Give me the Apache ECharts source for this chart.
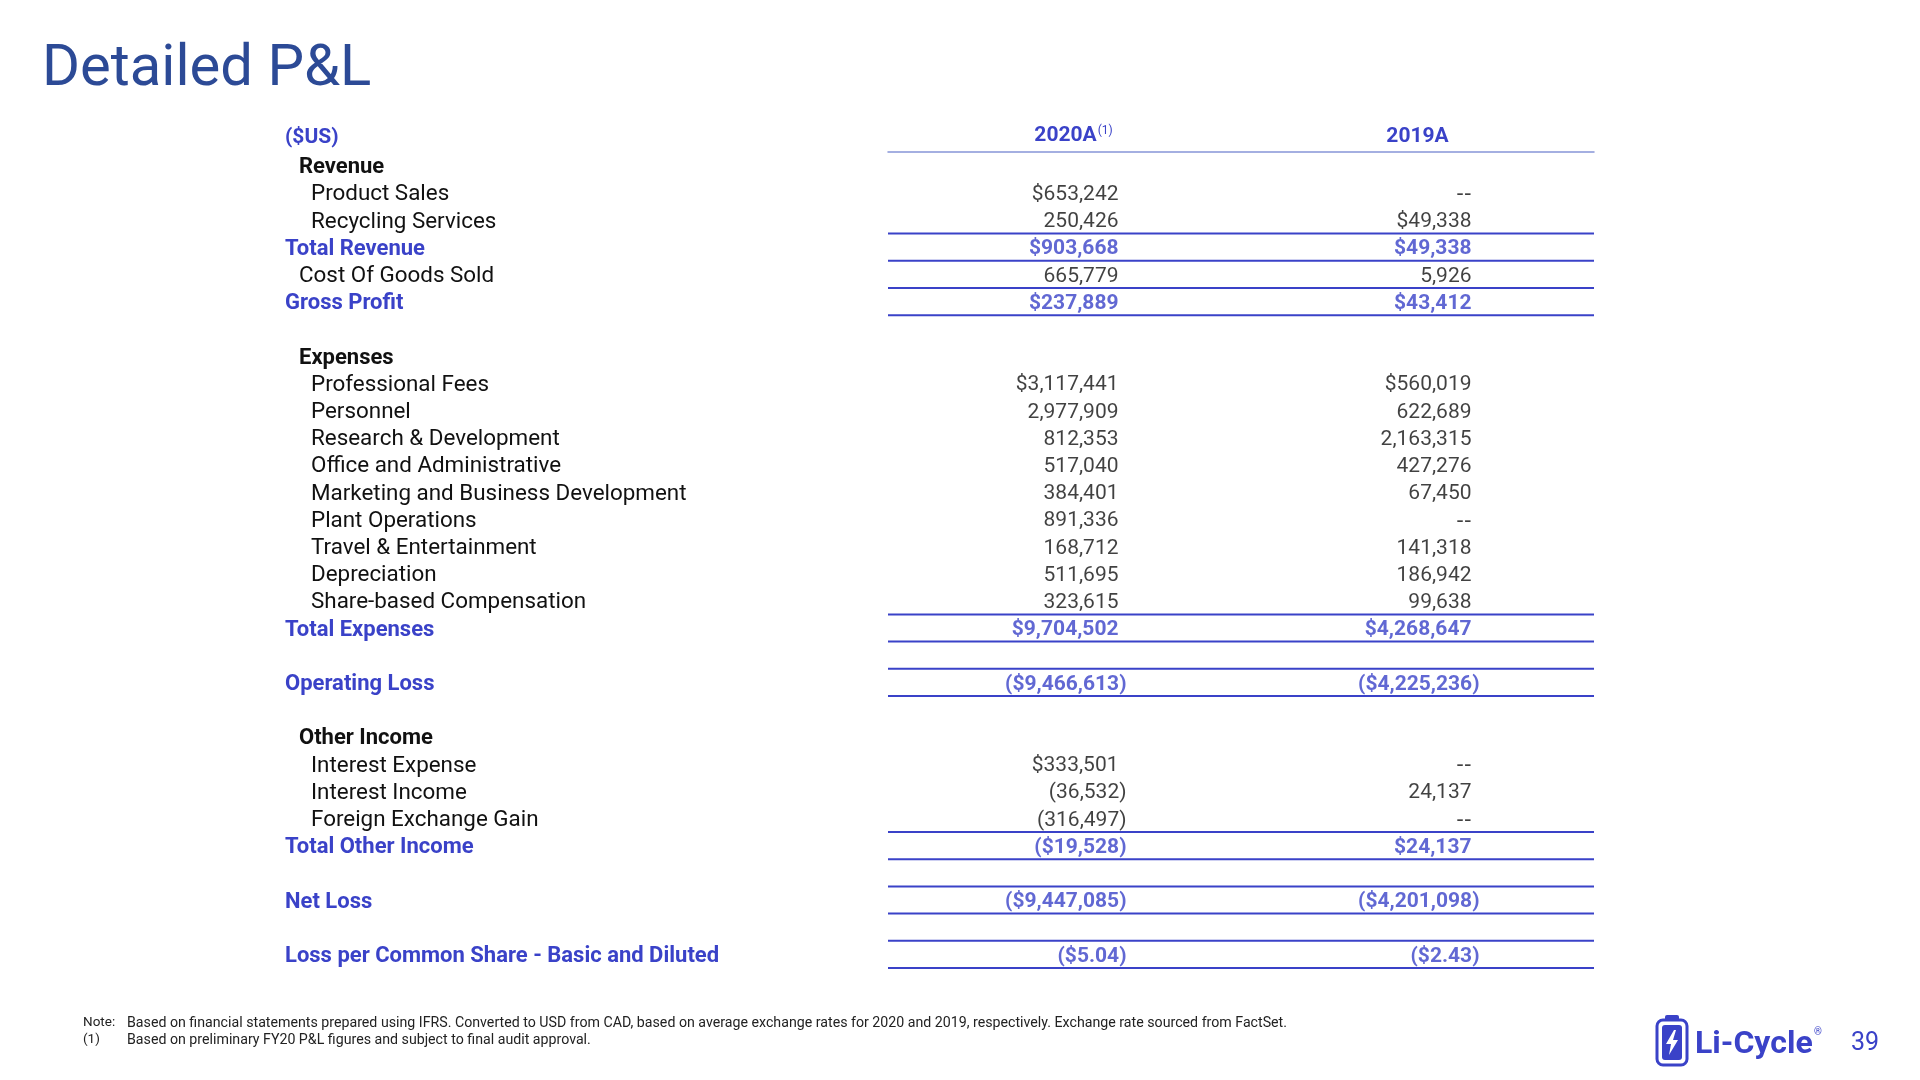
<!DOCTYPE html>
<html>
<head>
<meta charset="utf-8">
<title>Detailed P&L</title>
<script src="https://cdn.jsdelivr.net/npm/echarts@6/dist/echarts.min.js"></script>
<style>
    html, body { margin: 0; padding: 0; background: #fff; }
    #main { width: 1920px; height: 1080px; }
</style>
</head>
<body>
<div id="main"></div>
<script>
// rows of the statement, top to bottom ('' = spacer row)
const rowLabels = [
    'Revenue', 'Product Sales', 'Recycling Services', 'Total Revenue', 'Cost Of Goods Sold', 'Gross Profit', '',
    'Expenses', 'Professional Fees', 'Personnel', 'Research & Development', 'Office and Administrative',
    'Marketing and Business Development', 'Plant Operations', 'Travel & Entertainment', 'Depreciation',
    'Share-based Compensation', 'Total Expenses', '',
    'Operating Loss', '',
    'Other Income', 'Interest Expense', 'Interest Income', 'Foreign Exchange Gain', 'Total Other Income', '',
    'Net Loss', '',
    'Loss per Common Share - Basic and Diluted'
]
const columns = ['2020A', '2019A']

// null = no cell, '--' = nil
const v2020 = [
    null, 653242, 250426, 903668, 665779, 237889, null,
    null, 3117441, 2977909, 812353, 517040, 384401, 891336, 168712, 511695, 323615, 9704502, null,
    -9466613, null,
    null, 333501, -36532, -316497, -19528, null,
    -9447085, null,
    -5.04
]
const v2019 = [
    null, '--', 49338, 49338, 5926, 43412, null,
    null, 560019, 622689, 2163315, 427276, 67450, '--', 141318, 186942, 99638, 4268647, null,
    -4225236, null,
    null, '--', 24137, '--', 24137, null,
    -4201098, null,
    -2.43
]

const totalRows = ['Total Revenue', 'Gross Profit', 'Total Expenses', 'Operating Loss', 'Total Other Income', 'Net Loss', 'Loss per Common Share - Basic and Diluted']
const sectionRows = ['Revenue', 'Expenses', 'Other Income']
const level1Rows = ['Cost Of Goods Sold']
const dollarRows = {
    '2020A': ['Product Sales', 'Professional Fees', 'Interest Expense'],
    '2019A': ['Recycling Services', 'Professional Fees']
}

const blue = '#3a42c8'
const ink = '#111111'
const font = 'Roboto'

function fmt(v, row, col) {
    if (v === '--') return '--'
    let isTotal = totalRows.includes(row)
    let dollar = isTotal || dollarRows[col].includes(row) ? '$' : ''
    let abs = Math.abs(v)
    let s = Number.isInteger(v) ? abs.toLocaleString('en-US') : abs.toFixed(2)
    return v < 0 ? '(' + dollar + s + ')' : dollar + s
}

function cellSeries(values, colIdx) {
    let col = columns[colIdx]
    let data = []
    values.forEach((v, r) => {
        if (v === null) return
        let row = rowLabels[r]
        let txt = fmt(v, row, col)
        let key = totalRows.includes(row) ? 't' : 'n'
        if (txt === '--') key = 'd'
        else if (!txt.endsWith(')')) key += 'p'
        data.push({ value: [colIdx, r], txt: '{' + key + '|' + txt + '}' })
    })
    return {
        type: 'scatter',
        name: col,
        data: data,
        symbolSize: 1,
        itemStyle: { color: 'transparent' },
        label: {
            show: true,
            position: 'inside',
            align: 'right',
            verticalAlign: 'middle',
            offset: [62, 2],
            formatter: p => data[p.dataIndex].txt,
            rich: {
                n: { fontFamily: font, fontSize: 21, color: ink },
                np: { fontFamily: font, fontSize: 21, color: ink, padding: [0, 8, 0, 0] },
                d: { fontFamily: 'DejaVu Sans', fontSize: 21, color: ink, padding: [0, 8, 0, 0] },
                t: { fontFamily: font, fontSize: 21, color: blue, fontWeight: 'bold' },
                tp: { fontFamily: font, fontSize: 21, color: blue, fontWeight: 'bold', padding: [0, 8, 0, 0] }
            }
        },
        z: 5
    }
}

// overline / underline rules round every total row
let ruleData = []
rowLabels.forEach((r, i) => { if (totalRows.includes(r)) ruleData.push([0, i]) })

let myChart = echarts.init(document.getElementById('main'))
let option = {
    animation: false,
    backgroundColor: '#fff',
    title: [
        {
            text: 'Detailed P&L',
            left: 42, top: 41, padding: 0,
            textStyle: { fontFamily: font, fontSize: 58, fontWeight: 'normal', color: '#2c4a96' }
        },
        {
            text: '($US)',
            left: 285, top: 127, padding: 0,
            textStyle: { fontFamily: font, fontSize: 21, fontWeight: 'bold', color: blue }
        }
    ],
    grid: { left: 888, right: 326, top: 152, height: 816 },
    xAxis: {
        type: 'category',
        position: 'top',
        data: columns,
        axisTick: { show: false },
        splitLine: { show: false },
        axisLine: { show: true, lineStyle: { color: '#8795d8', width: 1.5 } },
        axisLabel: {
            margin: 5,
            formatter: v => v === '2020A' ? '{hs|' + v + '}{s|(1)}' : '{h|' + v + '}',
            rich: {
                h: { fontFamily: font, fontSize: 21, fontWeight: 'bold', color: blue },
                hs: { fontFamily: font, fontSize: 21, fontWeight: 'bold', color: blue, padding: [0, 0, 0, 18] },
                s: { fontFamily: font, fontSize: 12, color: blue, verticalAlign: 'top', padding: [0, 0, 10, 1] }
            }
        }
    },
    yAxis: {
        type: 'category',
        inverse: true,
        data: rowLabels,
        axisLine: { show: false },
        axisTick: { show: false },
        splitLine: { show: false },
        axisLabel: {
            interval: 0,
            align: 'left',
            margin: 603,
            formatter: v => {
                if (!v) return ''
                if (totalRows.includes(v)) return '{tot|' + v + '}'
                if (sectionRows.includes(v)) return '{sec|' + v + '}'
                if (level1Rows.includes(v)) return '{l1|' + v + '}'
                return '{l2|' + v + '}'
            },
            rich: {
                tot: { fontFamily: font, fontSize: 22, fontWeight: 'bold', color: blue, padding: [4, 0, 0, 0] },
                sec: { fontFamily: font, fontSize: 22, fontWeight: 'bold', color: ink, padding: [4, 0, 0, 14] },
                l1: { fontFamily: font, fontSize: 22.4, color: ink, padding: [4, 0, 0, 14] },
                l2: { fontFamily: font, fontSize: 22.4, color: ink, padding: [4, 0, 0, 26] }
            }
        }
    },
    series: [
        cellSeries(v2020, 0),
        cellSeries(v2019, 1),
        {
            type: 'custom',
            name: 'rules',
            data: ruleData,
            encode: { x: 0, y: 1 },
            renderItem: function (params, api) {
                let cs = params.coordSys
                let y = api.coord([0, api.value(1)])[1]
                let h = api.size([0, 1])[1] / 2
                let style = { stroke: blue, lineWidth: 2 }
                return {
                    type: 'group',
                    children: [
                        { type: 'line', shape: { x1: cs.x, y1: y - h, x2: cs.x + cs.width, y2: y - h }, style: style },
                        { type: 'line', shape: { x1: cs.x, y1: y + h, x2: cs.x + cs.width, y2: y + h }, style: style }
                    ]
                }
            },
            z: 3
        }
    ],
    graphic: [
        // footnotes
        { type: 'text', left: 83, top: 1016, style: { text: 'Note:', font: '13.5px Roboto', fill: '#222' } },
        { type: 'text', left: 127, top: 1016, style: { text: 'Based on financial statements prepared using IFRS. Converted to USD from CAD, based on average exchange rates for 2020 and 2019, respectively. Exchange rate sourced from FactSet.', font: '14.2px Roboto', fill: '#222' } },
        { type: 'text', left: 83, top: 1033, style: { text: '(1)', font: '13.5px Roboto', fill: '#222' } },
        { type: 'text', left: 127, top: 1033, style: { text: 'Based on preliminary FY20 P&L figures and subject to final audit approval.', font: '14.2px Roboto', fill: '#222' } },
        // logo
        { type: 'rect', shape: { x: 1665, y: 1015, width: 14, height: 6, r: 2 }, style: { fill: blue } },
        { type: 'rect', shape: { x: 1657, y: 1020, width: 30, height: 45, r: 6 }, style: { fill: 'none', stroke: blue, lineWidth: 3 } },
        { type: 'rect', shape: { x: 1662, y: 1025, width: 20, height: 35, r: 3 }, style: { fill: blue } },
        { type: 'polygon', shape: { points: [[1674, 1030], [1666, 1044], [1671, 1044], [1669, 1055], [1678, 1040], [1673, 1040], [1676, 1030]] }, style: { fill: '#fff' } },
        { type: 'text', left: 1695, top: 1029, style: { text: 'Li-Cycle', font: 'bold 32px Roboto', fill: blue } },
        { type: 'text', left: 1814, top: 1027, style: { text: '®', font: '10px Roboto', fill: blue } },
        { type: 'text', left: 1851, top: 1031, style: { text: '39', font: '25px Roboto', fill: blue } }
    ]
}
option && myChart.setOption(option)
window.addEventListener('resize', function () {
    myChart.resize()
})
</script>
</body>
</html>
